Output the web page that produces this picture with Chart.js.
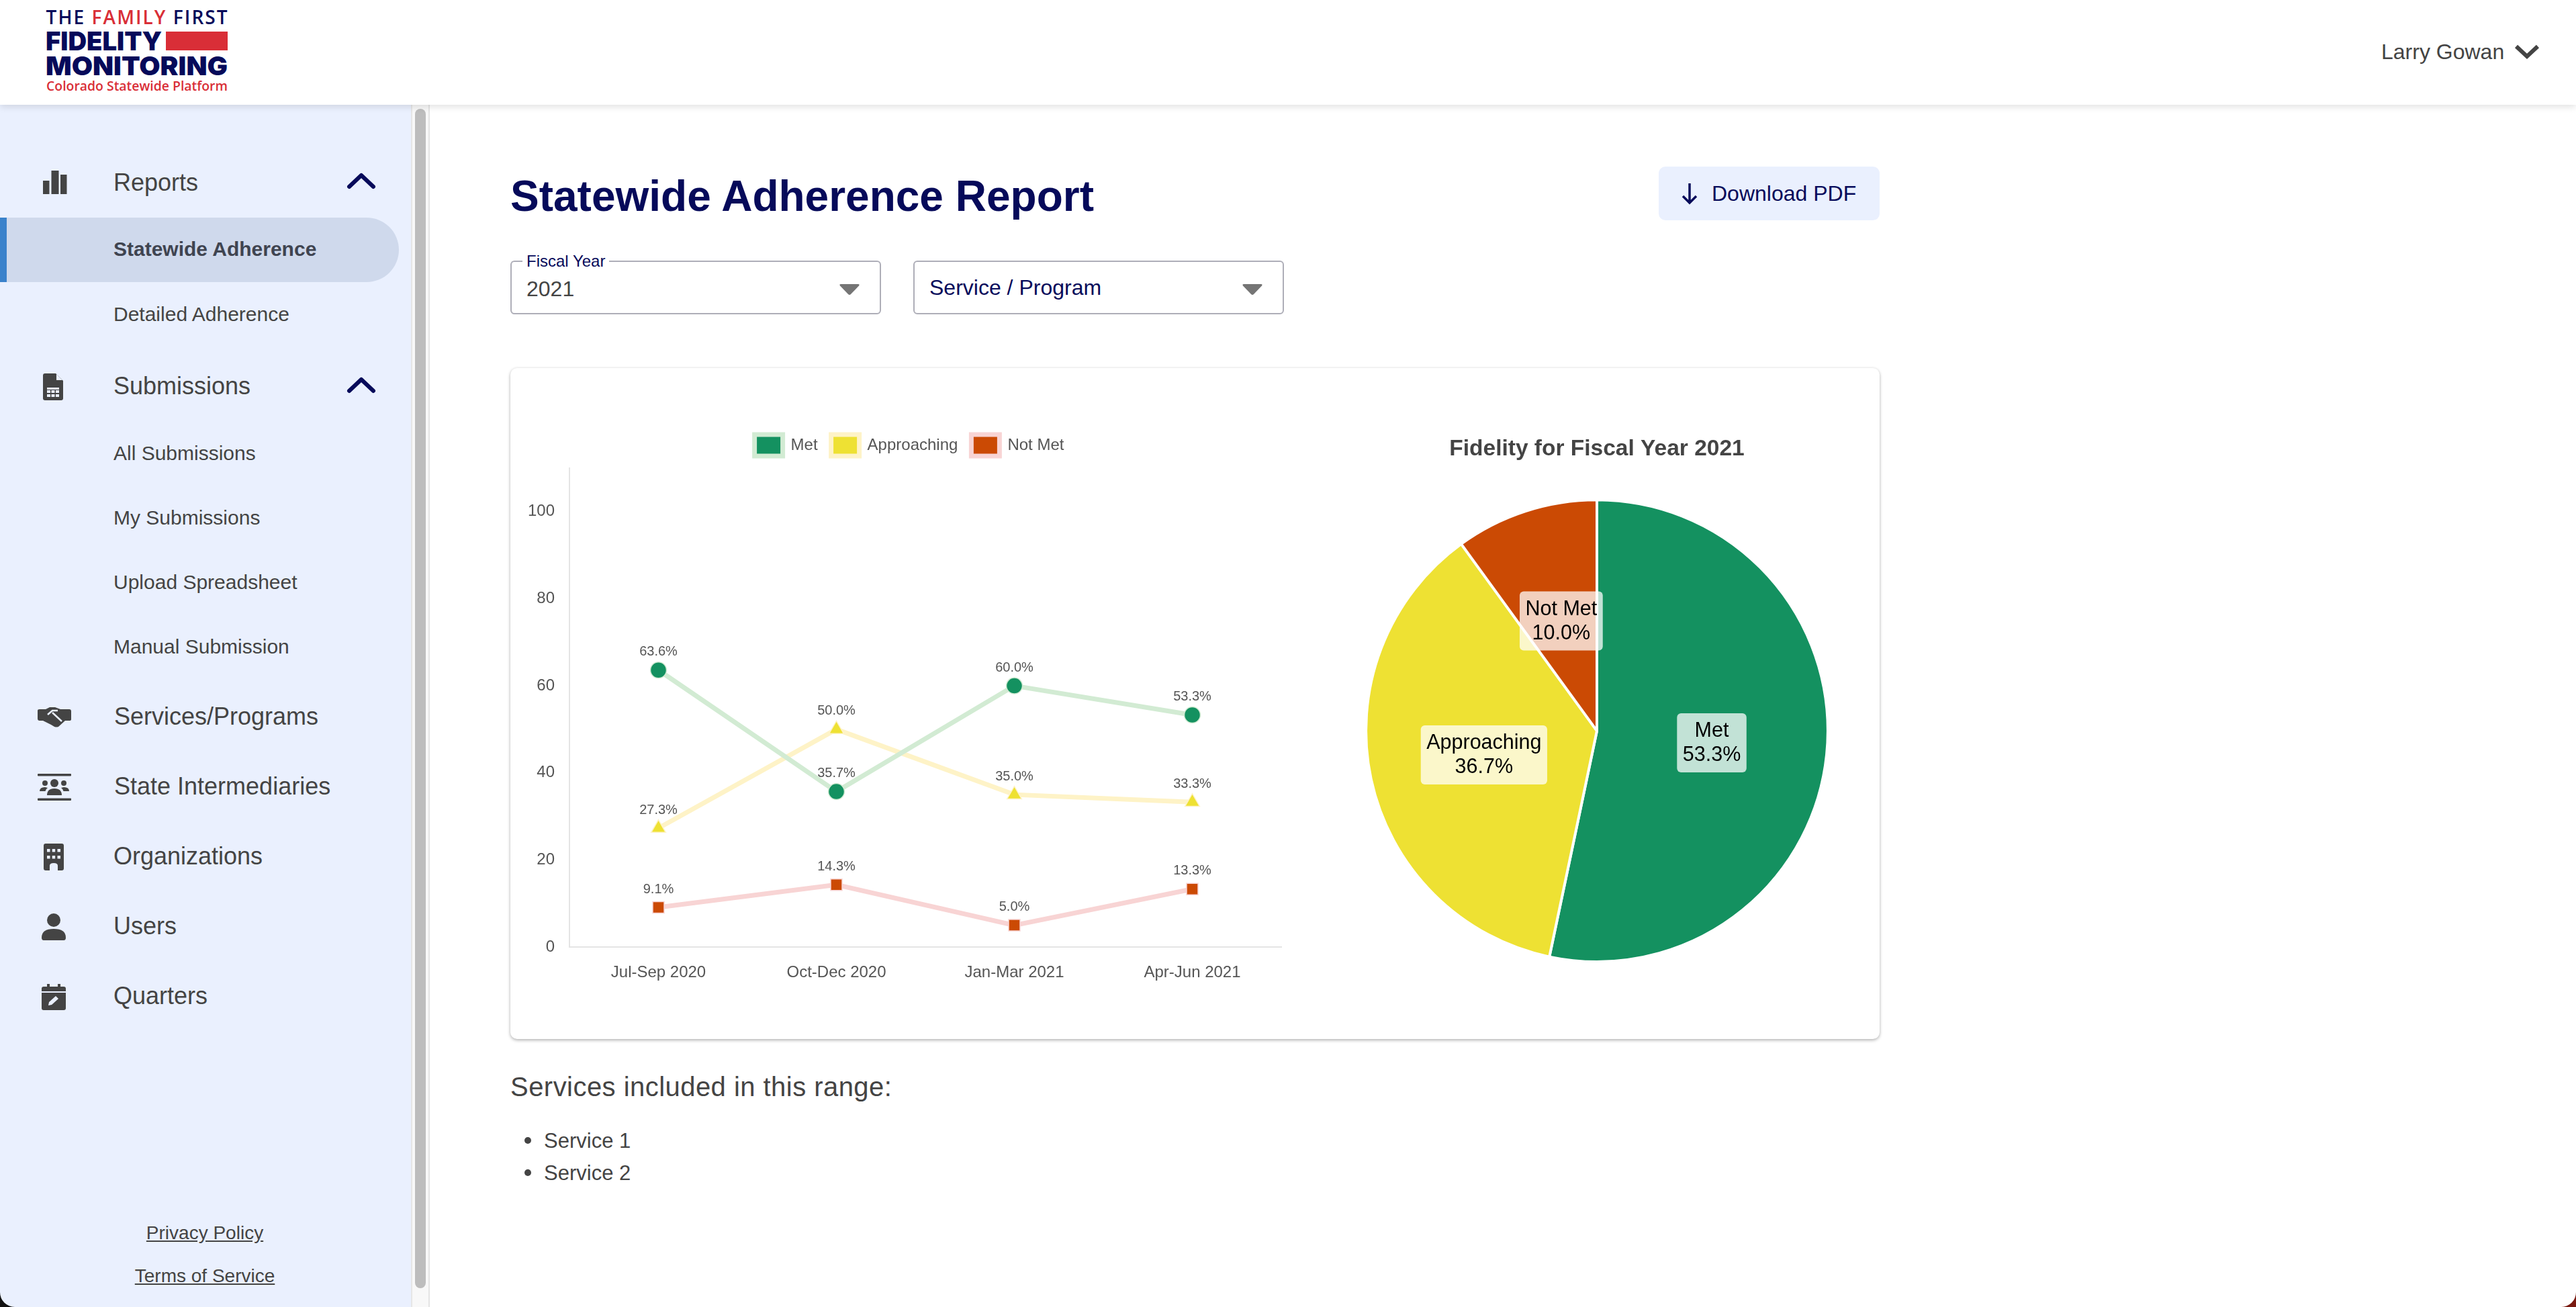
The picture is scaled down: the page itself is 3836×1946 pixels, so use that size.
<!DOCTYPE html>
<html><head><meta charset="utf-8">
<script src="https://cdn.jsdelivr.net/npm/chart.js@4"></script>
<style>
html,body{margin:0;padding:0;background:#fff;width:3836px;height:1946px;overflow:hidden;font-family:"Liberation Sans",Arial,sans-serif;color:#444}
.a{position:absolute;white-space:nowrap;line-height:1;transform:translateY(-50%)}
.box{position:absolute;box-sizing:border-box}
#header{position:absolute;left:0;top:0;width:3836px;height:156px;background:#fff;box-shadow:0 3px 10px rgba(0,0,0,.12);z-index:5}
#side{position:absolute;left:0;top:156px;width:612px;height:1790px;background:#eaf0fe;border-bottom-left-radius:22px}
#corner{position:absolute;left:0;top:1900px;width:30px;height:46px;background:#111}
#cornerR{position:absolute;left:3812px;top:1922px;width:24px;height:24px;background:#7a1a10}
#cornerR div{width:24px;height:24px;background:#fff;border-bottom-right-radius:22px}
#gutter{position:absolute;left:612px;top:156px;width:28px;height:1790px;background:#f8f8f8;border-left:2px solid #e6e6e6;border-right:2px solid #e4e4e4;box-sizing:border-box}
#thumb{position:absolute;left:618px;top:162px;width:16px;height:1756px;background:#bdbdbd;border-radius:8px}
#pill{position:absolute;left:0;top:324px;width:594px;height:96px;background:#cfd9ec;border-radius:0 48px 48px 0}
#bar{position:absolute;left:0;top:324px;width:10px;height:96px;background:#3a82cb}
.nav{font-size:36px;left:170px;color:#444}
.sub{font-size:30px;left:169px;color:#444}
.sel{position:absolute;top:388px;height:80px;width:552px;box-sizing:border-box;border:2px solid #aeaeb8;border-radius:6px;background:#fff}
#card{position:absolute;left:760px;top:548px;width:2039px;height:999px;background:#fff;border-radius:10px;box-shadow:0 2px 5px rgba(0,0,0,.28),0 0 4px rgba(0,0,0,.06)}
canvas{position:absolute;display:block}
svg{position:absolute;overflow:visible}
</style></head><body>
<div id="corner"></div>
<div id="cornerR"><div></div></div>
<div id="side"></div>
<div id="gutter"></div><div id="thumb"></div>
<div id="pill"></div><div id="bar"></div>

<div id="header">
<svg style="left:0;top:0" width="400" height="156">
<text x="68.6" y="36" font-family="Open Sans" font-weight="600" font-size="28" textLength="270" lengthAdjust="spacing" fill="#060a5a">THE <tspan fill="#d92e37">FAMILY</tspan> FIRST</text>
<text x="68" y="75" font-family="Inter" font-weight="900" font-size="39" textLength="173" lengthAdjust="spacingAndGlyphs" fill="#060a5a">FIDELITY</text>
<rect x="247" y="47" width="92" height="28" fill="#d92e37"/>
<text x="68" y="112" font-family="Inter" font-weight="900" font-size="39" textLength="271" lengthAdjust="spacingAndGlyphs" fill="#060a5a">MONITORING</text>
<text x="69" y="135" font-family="Open Sans" font-weight="600" font-size="20" textLength="270" lengthAdjust="spacingAndGlyphs" fill="#d92e37">Colorado Statewide Platform</text>
</svg>
<div class="a" style="left:3546px;top:77px;font-size:32px;color:#444">Larry Gowan</div>
<svg style="left:3745px;top:66px" width="36" height="22"><path d="M2 3 L18 18 L34 3" fill="none" stroke="#444" stroke-width="6"/></svg>
</div>

<svg style="left:64px;top:254px" width="35" height="35" fill="#444"><rect x="0" y="15" width="9.5" height="20"/><rect x="12.5" y="0" width="11" height="35"/><rect x="26" y="6" width="9.5" height="29"/></svg>
<div class="a nav" style="top:272px;left:169px">Reports</div>
<svg style="left:517px;top:257px" width="42" height="24"><path d="M3 21 L21 4 L39 21" fill="none" stroke="#060a5a" stroke-width="6" stroke-linecap="round" stroke-linejoin="round"/></svg>
<div class="a sub" style="top:371px;font-weight:700;color:#3f4450">Statewide Adherence</div>
<div class="a sub" style="top:468px">Detailed Adherence</div>

<svg style="left:64px;top:556px" width="30" height="40"><path d="M3 0 H19 L30 11 V37 Q30 40 27 40 H3 Q0 40 0 37 V3 Q0 0 3 0Z" fill="#444"/><path d="M20 1 L29 10 H20Z" fill="#eaf0fe"/><g fill="#eaf0fe"><rect x="6" y="21" width="18" height="3"/><rect x="6" y="25" width="5" height="4"/><rect x="12.5" y="25" width="5" height="4"/><rect x="19" y="25" width="5" height="4"/><rect x="6" y="31" width="5" height="4"/><rect x="12.5" y="31" width="5" height="4"/><rect x="19" y="31" width="5" height="4"/></g></svg>
<div class="a nav" style="top:575px;left:169px">Submissions</div>
<svg style="left:517px;top:561px" width="42" height="24"><path d="M3 21 L21 4 L39 21" fill="none" stroke="#060a5a" stroke-width="6" stroke-linecap="round" stroke-linejoin="round"/></svg>
<div class="a sub" style="top:675px">All Submissions</div>
<div class="a sub" style="top:771px">My Submissions</div>
<div class="a sub" style="top:867px">Upload Spreadsheet</div>
<div class="a sub" style="top:963px">Manual Submission</div>

<svg style="left:56px;top:1053px" width="50" height="30"><path d="M0 5 Q0 3 3 3 H12 L18 0 H26 L34 3 H47 Q50 3 50 6 V18 Q50 20 47 20 H41 L31 29 Q28 30 25 29 L20 26 L8 20 H3 Q0 20 0 17Z" fill="#444"/><path d="M15 11 L22 5 H30 M22 8 L36 21" fill="none" stroke="#eaf0fe" stroke-width="2.5"/></svg>
<div class="a nav" style="top:1067px">Services/Programs</div>
<svg style="left:56px;top:1152px" width="50" height="40" fill="#444"><rect x="0" y="0" width="50" height="3.5" rx="1"/><rect x="0" y="36.5" width="50" height="3.5" rx="1"/><circle cx="25" cy="14" r="6"/><circle cx="11" cy="14" r="4"/><circle cx="39" cy="14" r="4"/><path d="M14 32 Q14 22 25 22 Q36 22 36 32Z"/><path d="M3 26 Q3 20 11 20 L15 21 Q12 23 11.500 26Z"/><path d="M47 26 Q47 20 39 20 L35 21 Q38 23 38.500 26Z"/></svg>
<div class="a nav" style="top:1171px">State Intermediaries</div>
<svg style="left:65px;top:1256px" width="30" height="40"><path d="M3 0 H27 Q30 0 30 3 V37 Q30 40 27 40 H21 V33 Q21 29 15 29 Q9 29 9 33 V40 H3 Q0 40 0 37 V3 Q0 0 3 0Z" fill="#444"/><g fill="#eaf0fe"><rect x="5" y="8" width="4.500" height="4.500"/><rect x="12.700" y="8" width="4.500" height="4.500"/><rect x="20.500" y="8" width="4.500" height="4.500"/><rect x="5" y="18" width="4.500" height="4.500"/><rect x="12.700" y="18" width="4.500" height="4.500"/><rect x="20.500" y="18" width="4.500" height="4.500"/></g></svg>
<div class="a nav" style="top:1275px;left:169px">Organizations</div>
<svg style="left:62px;top:1360px" width="36" height="40" fill="#444"><circle cx="18" cy="10" r="10"/><path d="M0 36 Q0 23 18 23 Q36 23 36 36 Q36 40 33 40 H3 Q0 40 0 36Z"/></svg>
<div class="a nav" style="top:1379px;left:169px">Users</div>
<svg style="left:62px;top:1465px" width="36" height="39"><path d="M3 4 H8 V0 H12 V4 H24 V0 H28 V4 H33 Q36 4 36 7 V36 Q36 39 33 39 H3 Q0 39 0 36 V7 Q0 4 3 4Z" fill="#444"/><rect x="0" y="11" width="36" height="2" fill="#eaf0fe"/><path d="M10 32 L11 27 L21 18 L25 22 L15 31Z" fill="#eaf0fe"/></svg>
<div class="a nav" style="top:1483px;left:169px">Quarters</div>

<div class="a" style="top:1836px;left:305px;font-size:28px;transform:translate(-50%,-50%);text-decoration:underline">Privacy Policy</div>
<div class="a" style="top:1900px;left:305px;font-size:28px;transform:translate(-50%,-50%);text-decoration:underline">Terms of Service</div>

<div class="a" style="left:760px;top:292px;font-size:64px;font-weight:700;color:#060a5a">Statewide Adherence Report</div>
<div class="box" style="left:2470px;top:248px;width:329px;height:80px;background:#eaf0fe;border-radius:10px"></div>
<svg style="left:2503px;top:272px" width="26" height="32"><path d="M13 1 V30 M3 20 L13 30 L23 20" fill="none" stroke="#060a5a" stroke-width="3.500"/></svg>
<div class="a" style="left:2549px;top:288px;font-size:32px;color:#060a5a">Download PDF</div>

<div class="sel" style="left:760px"></div>
<div class="a" style="left:778px;top:389px;font-size:24px;color:#060a5a;background:#fff;padding:0 6px">Fiscal Year</div>
<div class="a" style="left:784px;top:430px;font-size:32px;color:#444">2021</div>
<svg style="left:1249px;top:422px" width="32" height="18"><path d="M3 1 H29 Q31.500 1 30 3.500 L18 16 Q16 18 14 16 L2 3.500 Q0.500 1 3 1Z" fill="#757575"/></svg>
<div class="sel" style="left:1360px"></div>
<div class="a" style="left:1384px;top:428px;font-size:32px;color:#060a5a">Service / Program</div>
<svg style="left:1849px;top:422px" width="32" height="18"><path d="M3 1 H29 Q31.500 1 30 3.500 L18 16 Q16 18 14 16 L2 3.500 Q0.500 1 3 1Z" fill="#757575"/></svg>

<div id="card"></div>
<canvas id="lineChart" style="left:780px;top:627px;width:1142px;height:853px" width="1142" height="853"></canvas>
<canvas id="pieChart" style="left:1958px;top:620px;width:840px;height:814px" width="840" height="814"></canvas>

<div class="a" style="left:760px;top:1618px;font-size:40px;letter-spacing:.46px;color:#444">Services included in this range:</div>
<div class="box" style="left:781px;top:1693px;width:10px;height:10px;border-radius:50%;background:#444"></div>
<div class="a" style="left:810px;top:1698px;font-size:31px;color:#444">Service 1</div>
<div class="box" style="left:781px;top:1741px;width:10px;height:10px;border-radius:50%;background:#444"></div>
<div class="a" style="left:810px;top:1746px;font-size:31px;color:#444">Service 2</div>

<script>
const quarters = ["Jul-Sep 2020", "Oct-Dec 2020", "Jan-Mar 2021", "Apr-Jun 2021"];
const metValues = [63.6, 35.7, 60.0, 53.3];
const approachingValues = [27.3, 50.0, 35.0, 33.3];
const notMetValues = [9.1, 14.3, 5.0, 13.3];
const pieLabels = ["Met", "Approaching", "Not Met"];
const pieValues = [53.3, 36.7, 10.0];

const GREEN = "#149160", YELLOW = "#eee133", ORANGE = "#cb4a04";
const FONT = '"Liberation Sans", Arial, sans-serif';
Chart.defaults.font.family = FONT;
Chart.defaults.devicePixelRatio = 1;
Chart.defaults.animation = false;

const legendGap = {
  id: "legendGap",
  beforeInit(chart) {
    const legend = chart.legend, fit = legend.fit, draw = legend.draw;
    legend.fit = function () { fit.call(this); this.height += 8; };
    legend.draw = function () {
      const ctx = this.ctx;
      ctx.save();
      ctx.translate(6, 0);
      draw.call(this);
      ctx.restore();
    };
  }
};

const pointLabels = {
  id: "pointLabels",
  afterDatasetsDraw(chart) {
    const ctx = chart.ctx;
    ctx.save();
    ctx.font = "20px " + FONT;
    ctx.fillStyle = "#555";
    ctx.textAlign = "center";
    ctx.textBaseline = "middle";
    chart.data.datasets.forEach((ds, i) => {
      chart.getDatasetMeta(i).data.forEach((pt, j) => {
        ctx.fillText(ds.data[j].toFixed(1) + "%", pt.x, pt.y - 27);
      });
    });
    ctx.restore();
  }
};

const sliceLabels = {
  id: "sliceLabels",
  afterDatasetsDraw(chart) {
    const ctx = chart.ctx, ds = chart.data.datasets[0];
    ctx.save();
    ctx.font = "30.5px " + FONT;
    ctx.textAlign = "center";
    ctx.textBaseline = "middle";
    chart.getDatasetMeta(0).data.forEach((arc, i) => {
      const c = arc.getCenterPoint();
      const l1 = chart.data.labels[i], l2 = ds.data[i].toFixed(1) + "%";
      const w = Math.max(ctx.measureText(l1).width, ctx.measureText(l2).width) + 17;
      const h = 88;
      ctx.fillStyle = "rgba(255,255,255,0.74)";
      ctx.beginPath();
      ctx.roundRect(c.x - w / 2, c.y - h / 2, w, h, 6);
      ctx.fill();
      ctx.fillStyle = "#000";
      ctx.fillText(l1, c.x, c.y - 17);
      ctx.fillText(l2, c.x, c.y + 19);
    });
    ctx.restore();
  }
};

new Chart(document.getElementById("lineChart"), {
  type: "line",
  data: {
    labels: quarters,
    datasets: [
      { label: "Met", data: metValues, borderColor: "#d2ebd3", backgroundColor: GREEN,
        pointBackgroundColor: GREEN, pointBorderColor: "#d2ebd3", pointStyle: "circle", pointRadius: 12 },
      { label: "Approaching", data: approachingValues, borderColor: "#fef3c7", backgroundColor: YELLOW,
        pointBackgroundColor: YELLOW, pointBorderColor: "#fef3c7", pointStyle: "triangle", pointRadius: 12.5 },
      { label: "Not Met", data: notMetValues, borderColor: "#f8d4d4", backgroundColor: ORANGE,
        pointBackgroundColor: ORANGE, pointBorderColor: "#f8d4d4", pointStyle: "rect", pointRadius: 12 }
    ].map(d => Object.assign(d, { borderWidth: 7, pointBorderWidth: 1.5, tension: 0, fill: false }))
  },
  options: {
    responsive: false,
    layout: { padding: { right: 6 } },
    plugins: {
      legend: {
        position: "top",
        labels: { boxWidth: 42, boxHeight: 32, padding: 20, color: "#555", font: { size: 24 } }
      },
      tooltip: { enabled: false }
    },
    scales: {
      x: {
        offset: true,
        grid: { display: false, drawTicks: false },
        border: { color: "#e4e4e4", width: 2 },
        ticks: { color: "#555", font: { size: 24 }, padding: 24, maxRotation: 0 },
        afterFit(s) { s.height = 70; }
      },
      y: {
        min: 0, max: 110,
        grid: { display: false, drawTicks: false },
        border: { color: "#e4e4e4", width: 2 },
        ticks: { stepSize: 20, color: "#555", font: { size: 24 }, padding: 22,
          callback(v) { return v <= 100 ? v : ""; } },
        afterFit(s) { s.width = 68; }
      }
    }
  },
  plugins: [legendGap, pointLabels]
});

new Chart(document.getElementById("pieChart"), {
  type: "pie",
  data: {
    labels: pieLabels,
    datasets: [{ data: pieValues, backgroundColor: [GREEN, YELLOW, ORANGE], borderColor: "#fff", borderWidth: 4 }]
  },
  options: {
    responsive: false,
    plugins: {
      legend: { display: false },
      tooltip: { enabled: false },
      title: { display: true, text: "Fidelity for Fiscal Year 2021", color: "#444",
        font: { size: 33.5, weight: "bold" }, padding: { top: 29, bottom: 53 } }
    }
  },
  plugins: [sliceLabels]
});
</script>
</body></html>
